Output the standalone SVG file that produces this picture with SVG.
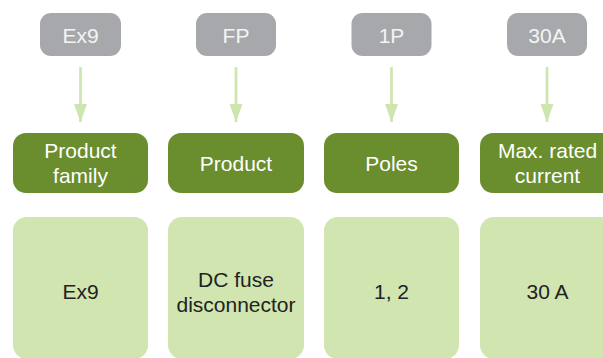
<svg xmlns="http://www.w3.org/2000/svg" width="603" height="358" viewBox="0 0 603 358">
<style>
.code{fill:#a7a8ab}
.codet{fill:#f4f4f4;font-family:"Liberation Sans",Arial,sans-serif;font-size:21px;text-anchor:middle}
.head{fill:#6a8d2e}
.headt{fill:#ffffff;font-family:"Liberation Sans",Arial,sans-serif;font-size:21px;text-anchor:middle}
.val{fill:#d0e5b0}
.valt{fill:#222222;font-family:"Liberation Sans",Arial,sans-serif;font-size:21px;text-anchor:middle}
.arr{stroke:#cfe5b0;stroke-width:2.7;fill:none;marker-end:url(#ah)}
</style>
<defs>
<marker id="ah" markerUnits="userSpaceOnUse" markerWidth="19" markerHeight="14" refX="18" refY="7" orient="auto" viewBox="0 0 19 14">
<path d="M0,0.5 L18,7 L0,13.5 Z" fill="#cfe5b0"/>
</marker>
</defs>
<g id="connectors">
<line class="arr" x1="80.5" y1="67" x2="80.5" y2="122"/>
<line class="arr" x1="236" y1="67" x2="236" y2="122"/>
<line class="arr" x1="391.5" y1="67" x2="391.5" y2="122"/>
<line class="arr" x1="547" y1="67" x2="547" y2="122"/>
</g>
<g id="code-ex9"><rect class="code" x="40" y="13" width="81" height="43" rx="11"/><text class="codet" x="80.5" y="43">Ex9</text></g>
<g id="code-fp"><rect class="code" x="196" y="13" width="80" height="43" rx="11"/><text class="codet" x="236" y="43">FP</text></g>
<g id="code-1p"><rect class="code" x="351.5" y="13" width="80" height="43" rx="11"/><text class="codet" x="391.5" y="43">1P</text></g>
<g id="code-30a"><rect class="code" x="507" y="13" width="80" height="43" rx="11"/><text class="codet" x="547" y="43">30A</text></g>
<g id="head-family"><rect class="head" x="13" y="133" width="135" height="60" rx="13"/><text class="headt" x="80.5" y="158">Product</text><text class="headt" x="80.5" y="183">family</text></g>
<g id="head-product"><rect class="head" x="168" y="133" width="136" height="60" rx="13"/><text class="headt" x="236" y="171">Product</text></g>
<g id="head-poles"><rect class="head" x="324" y="133" width="135" height="60" rx="13"/><text class="headt" x="391.5" y="171">Poles</text></g>
<g id="head-current"><rect class="head" x="480" y="133" width="135" height="60" rx="13"/><text class="headt" x="547.5" y="158">Max. rated</text><text class="headt" x="547.5" y="183">current</text></g>
<g id="val-family"><rect class="val" x="13" y="217" width="135" height="142" rx="14"/><text class="valt" x="80.5" y="299">Ex9</text></g>
<g id="val-product"><rect class="val" x="168" y="217" width="136" height="142" rx="14"/><text class="valt" x="236" y="287">DC fuse</text><text class="valt" x="236" y="312">disconnector</text></g>
<g id="val-poles"><rect class="val" x="324" y="217" width="135" height="142" rx="14"/><text class="valt" x="391.5" y="299">1, 2</text></g>
<g id="val-current"><rect class="val" x="480" y="217" width="135" height="142" rx="14"/><text class="valt" x="547.5" y="299">30 A</text></g>
</svg>
